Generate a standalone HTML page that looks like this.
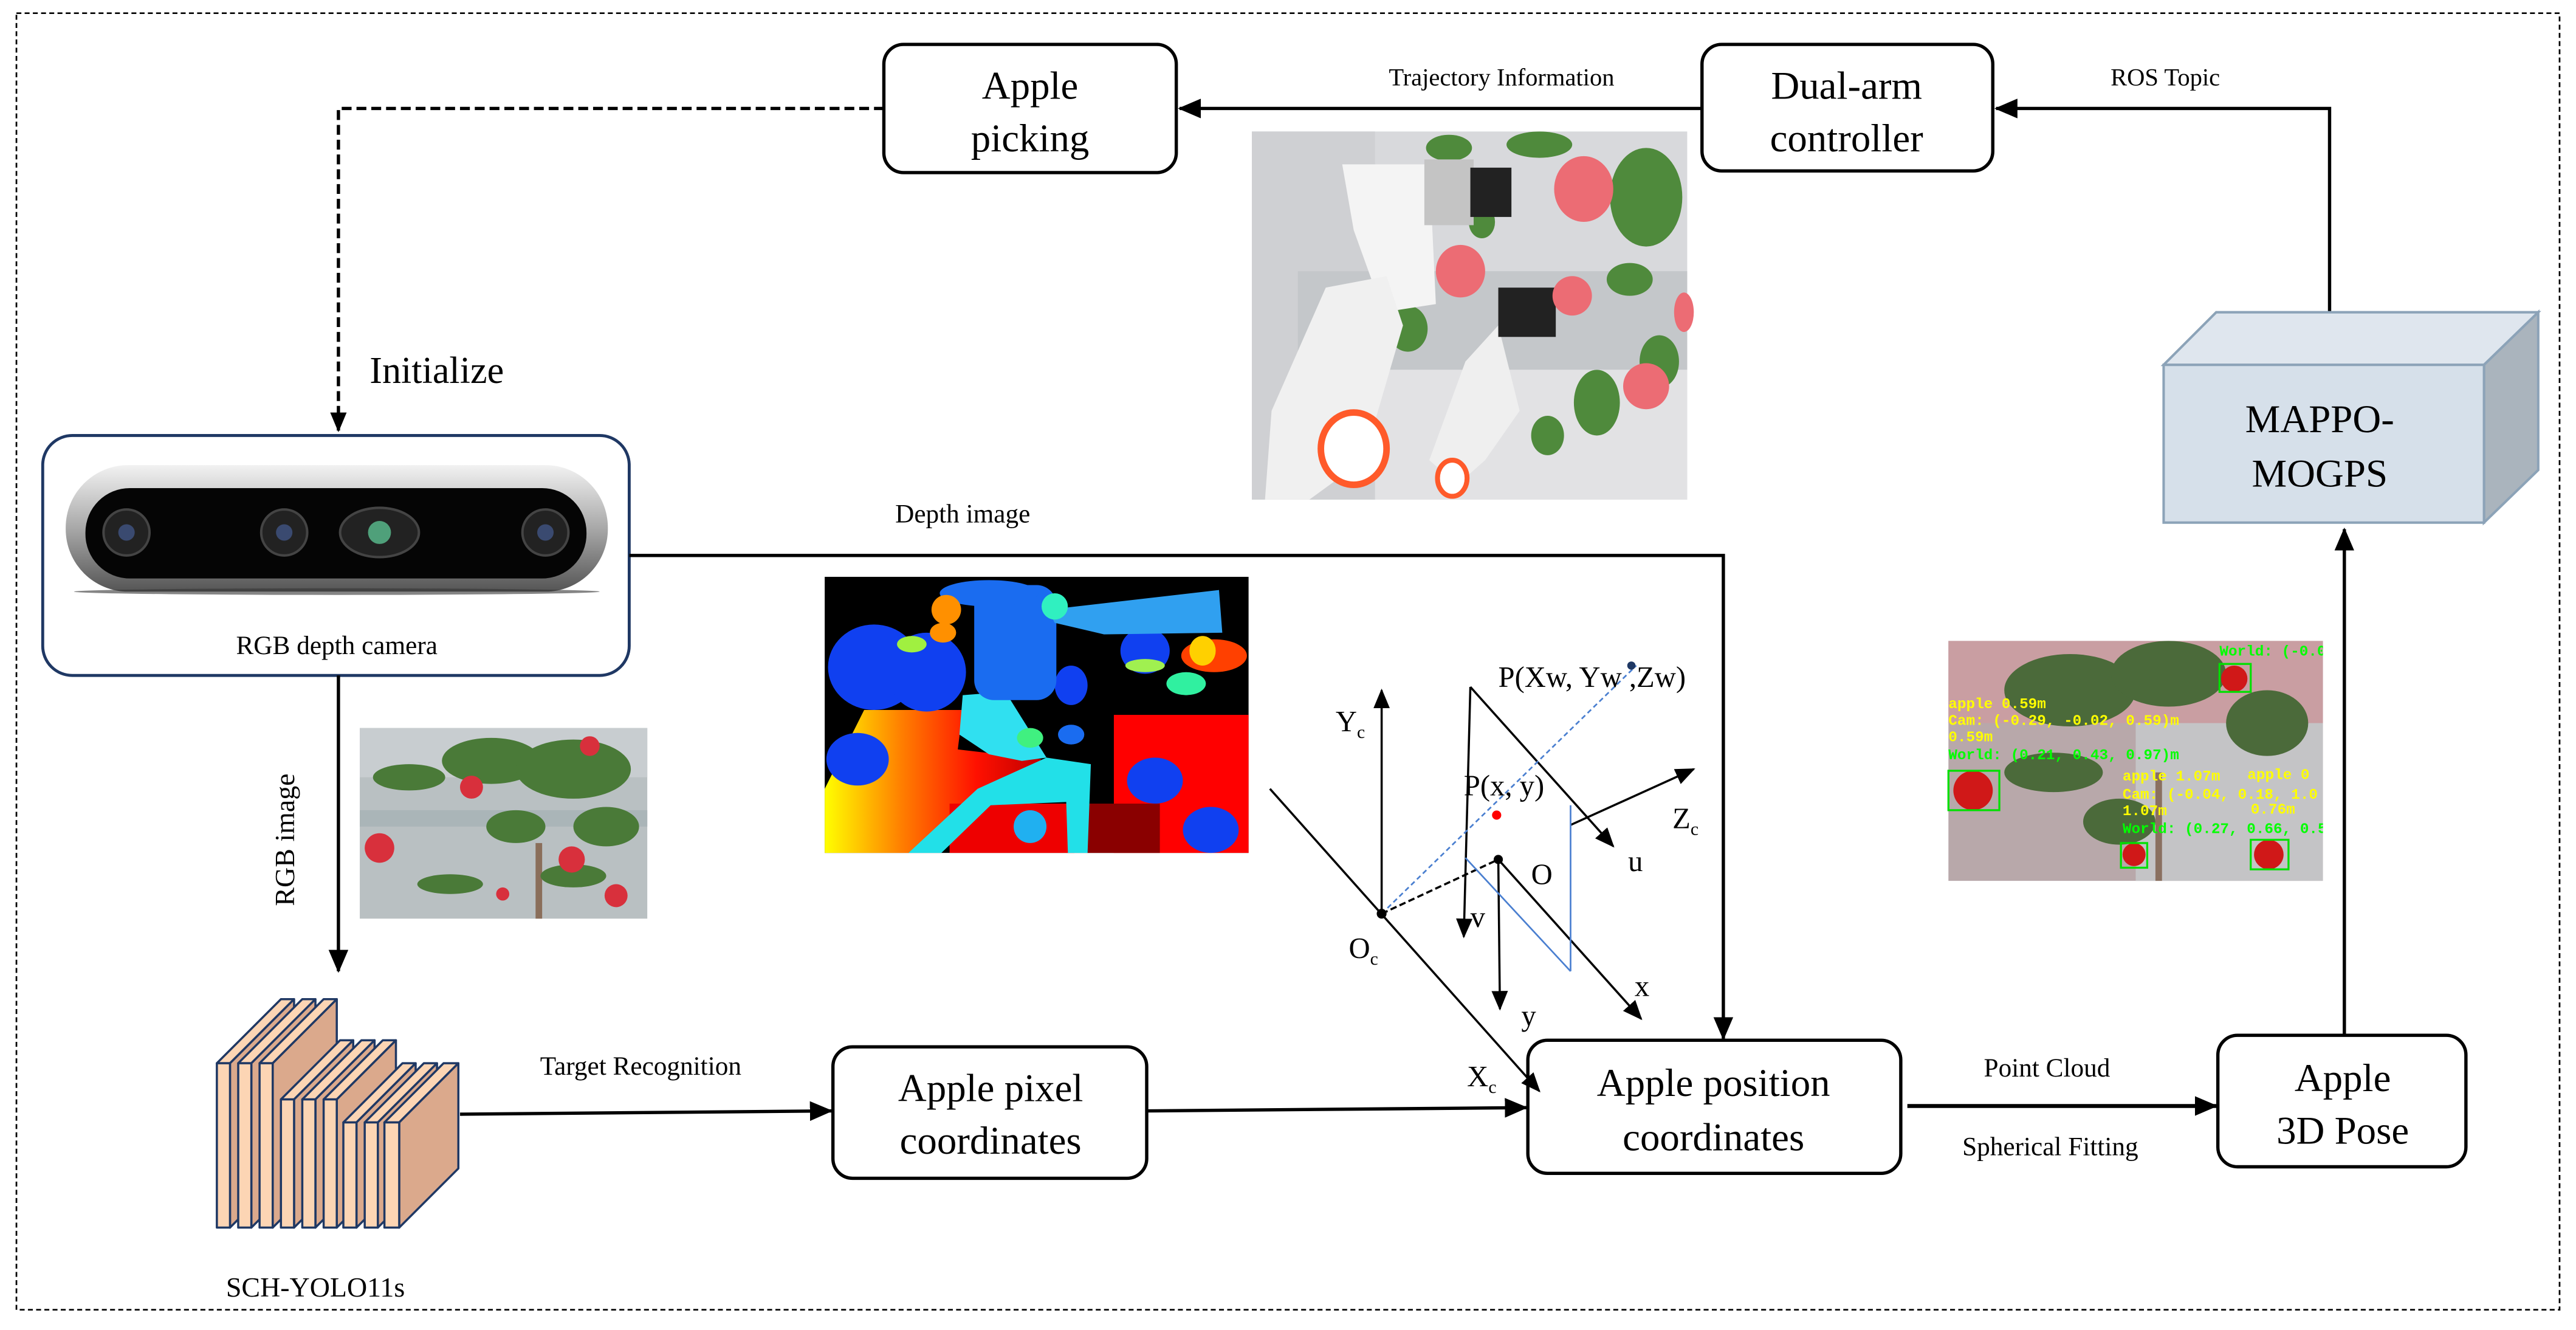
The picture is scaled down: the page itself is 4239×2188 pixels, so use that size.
<!DOCTYPE html>
<html><head><meta charset="utf-8"><style>
html,body{margin:0;padding:0;background:#fff}
svg{display:block}
text{font-family:"Liberation Serif",serif;fill:#000}
.m{font-family:"Liberation Mono",monospace;font-weight:bold;font-size:9px}
</style></head><body>
<svg width="4239" height="2188" viewBox="0 0 1568 809.3" xmlns="http://www.w3.org/2000/svg">
<defs>
<marker id="ah" markerUnits="userSpaceOnUse" markerWidth="14" markerHeight="12" refX="13" refY="6" orient="auto"><path d="M0,0 L14,6 L0,12 Z" fill="#000"/></marker>
<marker id="as" markerUnits="userSpaceOnUse" markerWidth="12" markerHeight="10" refX="11" refY="5" orient="auto"><path d="M0,0 L12,5 L0,10 Z" fill="#000"/></marker>
<linearGradient id="warm" x1="0" y1="0" x2="1" y2="0"><stop offset="0" stop-color="#ffff00"/><stop offset="0.35" stop-color="#ff8000"/><stop offset="0.7" stop-color="#ff1000"/><stop offset="1" stop-color="#c00000"/></linearGradient>
<linearGradient id="silver" x1="0" y1="0" x2="0" y2="1"><stop offset="0" stop-color="#f2f2f2"/><stop offset="0.5" stop-color="#a8a8a8"/><stop offset="1" stop-color="#555"/></linearGradient>
</defs>

<rect x="10" y="8" width="1548" height="789" fill="none" stroke="#000" stroke-width="1" stroke-dasharray="3,2"/>

<rect x="538" y="27" width="178" height="78" rx="12" fill="#fff" stroke="#000" stroke-width="2"/>
<text x="627" y="60" font-size="24" text-anchor="middle">Apple</text>
<text x="627" y="92" font-size="24" text-anchor="middle">picking</text>
<rect x="1036" y="27" width="177" height="77" rx="12" fill="#fff" stroke="#000" stroke-width="2"/>
<text x="1124" y="60" font-size="24" text-anchor="middle">Dual-arm</text>
<text x="1124" y="92" font-size="24" text-anchor="middle">controller</text>

<line x1="1036" y1="66" x2="718" y2="66" stroke="#000" stroke-width="2" marker-end="url(#ah)"/>
<text x="914" y="52" font-size="15" text-anchor="middle">Trajectory Information</text>
<polyline points="1418,190 1418,66 1215,66" fill="none" stroke="#000" stroke-width="2" marker-end="url(#ah)"/>
<text x="1318" y="52" font-size="15" text-anchor="middle">ROS Topic</text>

<polyline points="538,66 206,66 206,262" fill="none" stroke="#000" stroke-width="2" stroke-dasharray="6,3" marker-end="url(#as)"/>
<text x="225" y="233" font-size="23">Initialize</text>

<!-- robot photo -->
<g transform="translate(762,80)">
<rect width="265" height="224" fill="#d8d9dc"/>
<rect x="0" y="0" width="75" height="224" fill="#cfd0d3"/>
<rect x="28" y="85" width="237" height="60" fill="#c4c7ca"/>
<rect x="75" y="145" width="190" height="79" fill="#e2e2e4"/>
<g fill="#4f8a3c"><ellipse cx="120" cy="10" rx="14" ry="8"/><ellipse cx="175" cy="8" rx="20" ry="8"/><ellipse cx="240" cy="40" rx="22" ry="30"/><ellipse cx="230" cy="90" rx="14" ry="10"/><ellipse cx="95" cy="120" rx="12" ry="14"/><ellipse cx="210" cy="165" rx="14" ry="20"/><ellipse cx="180" cy="185" rx="10" ry="12"/><ellipse cx="248" cy="140" rx="12" ry="16"/><ellipse cx="140" cy="55" rx="8" ry="10"/></g>
<path d="M55,20 L108,20 L112,105 L80,110 L62,60 Z" fill="#f4f4f4"/>
<path d="M45,95 L82,88 L92,118 L68,200 L35,224 L8,224 L12,170 Z" fill="#f0f0f0"/>
<rect x="105" y="17" width="30" height="40" fill="#c4c4c4"/>
<rect x="133" y="22" width="25" height="30" fill="#222"/>
<ellipse cx="62" cy="193" rx="20" ry="22" fill="#fff" stroke="#ff5a2a" stroke-width="4"/>
<path d="M130,140 L150,118 L163,170 L142,200 L125,215 L108,200 Z" fill="#efefef"/>
<ellipse cx="122" cy="211" rx="9" ry="11" fill="#fff" stroke="#ff5a2a" stroke-width="3"/>
<rect x="150" y="95" width="35" height="30" fill="#222"/>
<g fill="#ec6c74"><ellipse cx="202" cy="35" rx="18" ry="20"/><ellipse cx="127" cy="85" rx="15" ry="16"/><ellipse cx="195" cy="100" rx="12" ry="12"/><ellipse cx="240" cy="155" rx="14" ry="14"/><ellipse cx="263" cy="110" rx="6" ry="12"/></g>
</g>

<!-- camera -->
<rect x="26" y="265" width="357" height="146" rx="18" fill="#fff" stroke="#1f3864" stroke-width="1.8"/>
<rect x="40" y="283" width="330" height="77" rx="38" fill="url(#silver)"/>
<rect x="52" y="297" width="305" height="55" rx="27" fill="#050505"/>
<ellipse cx="205" cy="360" rx="160" ry="2" fill="#333" opacity="0.6"/>
<g fill="#222" stroke="#444" stroke-width="1.5">
<circle cx="77" cy="324" r="14"/><circle cx="173" cy="324" r="14"/><circle cx="332" cy="324" r="14"/>
<ellipse cx="231" cy="324" rx="24" ry="15"/></g>
<circle cx="77" cy="324" r="5" fill="#3a4a70"/><circle cx="173" cy="324" r="5" fill="#3a4a70"/><circle cx="332" cy="324" r="5" fill="#3a4a70"/>
<circle cx="231" cy="324" r="7" fill="#4fa07a"/>
<text x="205" y="398" font-size="16" text-anchor="middle">RGB depth camera</text>

<polyline points="383,338 1049,338 1049,632" fill="none" stroke="#000" stroke-width="2" marker-end="url(#ah)"/>
<text x="586" y="318" font-size="16" text-anchor="middle">Depth image</text>

<!-- depth map -->
<g transform="translate(502,351)">
<rect width="258" height="168" fill="#000"/>
<path d="M0,129 L24,81 L84,81 L81,105 L132,111 L118,123 L90,135 L51,168 L0,168 Z" fill="url(#warm)"/>
<rect x="176" y="84" width="82" height="84" fill="#f00"/>
<rect x="76" y="138" width="76" height="30" fill="#e00"/>
<rect x="160" y="138" width="44" height="30" fill="#8a0000"/>
<path d="M51,168 L93,129 L135,110 L162,114 L160,168 L148,168 L147,137 L101,139 L71,168 Z" fill="#22e0e8"/>
<path d="M84,72 L110,70 L135,110 L120,112 L100,108 L82,96 Z" fill="#30e0f0"/>
<g fill="#1040f0"><ellipse cx="30" cy="55" rx="28" ry="26"/><ellipse cx="62" cy="58" rx="24" ry="24"/><ellipse cx="20" cy="111" rx="19" ry="16"/><ellipse cx="201" cy="124" rx="17" ry="14"/><ellipse cx="235" cy="154" rx="17" ry="14"/><ellipse cx="195" cy="45" rx="15" ry="14"/><ellipse cx="150" cy="66" rx="10" ry="12"/></g>
<g fill="#1a6cf0"><rect x="91" y="5" width="50" height="70" rx="12"/><ellipse cx="100" cy="10" rx="30" ry="8"/><ellipse cx="150" cy="96" rx="8" ry="6"/></g>
<path d="M136,20 L240,8 L242,34 L170,35 L140,28 Z" fill="#30a0f0"/>
<g fill="#ff9000"><ellipse cx="74" cy="20" rx="9" ry="9"/><ellipse cx="72" cy="34" rx="8" ry="6"/></g>
<ellipse cx="53" cy="41" rx="9" ry="5" fill="#a0f040"/>
<ellipse cx="237" cy="48" rx="20" ry="10" fill="#ff4000"/>
<ellipse cx="230" cy="45" rx="8" ry="9" fill="#ffd000"/>
<ellipse cx="195" cy="54" rx="12" ry="4" fill="#a0f050"/>
<ellipse cx="220" cy="65" rx="12" ry="7" fill="#30f0a0"/>
<ellipse cx="125" cy="98" rx="8" ry="6" fill="#40f080"/>
<ellipse cx="125" cy="152" rx="10" ry="10" fill="#20b0f0"/>
<ellipse cx="140" cy="18" rx="8" ry="8" fill="#30f0c0"/>
</g>

<line x1="206" y1="411" x2="206" y2="591" stroke="#000" stroke-width="2" marker-end="url(#ah)"/>
<text x="0" y="0" font-size="17" text-anchor="middle" transform="translate(179,511) rotate(-90)">RGB image</text>

<!-- tree photo -->
<g transform="translate(219,443)">
<rect width="175" height="116" fill="#b9c0c2"/>
<rect x="0" y="0" width="175" height="30" fill="#c8cdd0"/>
<rect x="0" y="50" width="175" height="10" fill="#aab5b8"/>
<rect x="107" y="70" width="4" height="46" fill="#8a6e5a"/>
<g fill="#4a7a38"><ellipse cx="30" cy="30" rx="22" ry="8"/><ellipse cx="80" cy="20" rx="30" ry="14"/><ellipse cx="130" cy="25" rx="35" ry="18"/><ellipse cx="150" cy="60" rx="20" ry="12"/><ellipse cx="95" cy="60" rx="18" ry="10"/><ellipse cx="55" cy="95" rx="20" ry="6"/><ellipse cx="130" cy="90" rx="20" ry="7"/></g>
<g fill="#d8303c"><circle cx="140" cy="11" r="6"/><circle cx="68" cy="36" r="7"/><circle cx="12" cy="73" r="9"/><circle cx="129" cy="80" r="8"/><circle cx="156" cy="102" r="7"/><circle cx="87" cy="101" r="4"/></g>
</g>

<!-- layer stack -->
<g stroke="#1f3864" stroke-width="1.3" stroke-linejoin="round">
<path d="M132,647 l39,-39 h8 l-39,39 z" fill="#fcd5b4"/><path d="M140,647 l39,-39 v100 l-39,39 z" fill="#dba98c"/><rect x="132" y="647" width="8" height="100" fill="#fcd5b4"/>
<path d="M145,647 l39,-39 h8 l-39,39 z" fill="#fcd5b4"/><path d="M153,647 l39,-39 v100 l-39,39 z" fill="#dba98c"/><rect x="145" y="647" width="8" height="100" fill="#fcd5b4"/>
<path d="M158,647 l39,-39 h8 l-39,39 z" fill="#fcd5b4"/><path d="M166,647 l39,-39 v100 l-39,39 z" fill="#dba98c"/><rect x="158" y="647" width="8" height="100" fill="#fcd5b4"/>
<path d="M171,669 l36,-36 h8 l-36,36 z" fill="#fcd5b4"/><path d="M179,669 l36,-36 v78 l-36,36 z" fill="#dba98c"/><rect x="171" y="669" width="8" height="78" fill="#fcd5b4"/>
<path d="M184,669 l36,-36 h8 l-36,36 z" fill="#fcd5b4"/><path d="M192,669 l36,-36 v78 l-36,36 z" fill="#dba98c"/><rect x="184" y="669" width="8" height="78" fill="#fcd5b4"/>
<path d="M197,669 l36,-36 h8 l-36,36 z" fill="#fcd5b4"/><path d="M205,669 l36,-36 v78 l-36,36 z" fill="#dba98c"/><rect x="197" y="669" width="8" height="78" fill="#fcd5b4"/>
<path d="M209,683 l36,-36 h8 l-36,36 z" fill="#fcd5b4"/><path d="M217,683 l36,-36 v64 l-36,36 z" fill="#dba98c"/><rect x="209" y="683" width="8" height="64" fill="#fcd5b4"/>
<path d="M222,683 l36,-36 h8 l-36,36 z" fill="#fcd5b4"/><path d="M230,683 l36,-36 v64 l-36,36 z" fill="#dba98c"/><rect x="222" y="683" width="8" height="64" fill="#fcd5b4"/>
<path d="M234,683 l36,-36 h9 l-36,36 z" fill="#fcd5b4"/><path d="M243,683 l36,-36 v64 l-36,36 z" fill="#dba98c"/><rect x="234" y="683" width="9" height="64" fill="#fcd5b4"/>
</g>
<text x="192" y="789" font-size="17" text-anchor="middle">SCH-YOLO11s</text>

<line x1="280" y1="678" x2="506" y2="676" stroke="#000" stroke-width="2" marker-end="url(#ah)"/>
<text x="390" y="654" font-size="16" text-anchor="middle">Target Recognition</text>
<rect x="507" y="637" width="191" height="80" rx="12" fill="#fff" stroke="#000" stroke-width="2"/>
<text x="603" y="670" font-size="24" text-anchor="middle">Apple pixel</text>
<text x="603" y="702" font-size="24" text-anchor="middle">coordinates</text>
<line x1="698" y1="676" x2="929" y2="674" stroke="#000" stroke-width="2" marker-end="url(#ah)"/>
<rect x="930" y="633" width="227" height="81" rx="12" fill="#fff" stroke="#000" stroke-width="2"/>
<text x="1043" y="667" font-size="24" text-anchor="middle">Apple position</text>
<text x="1043" y="700" font-size="24" text-anchor="middle">coordinates</text>
<line x1="1161" y1="673" x2="1349" y2="673" stroke="#000" stroke-width="2.4" marker-end="url(#ah)"/>
<text x="1246" y="655" font-size="16" text-anchor="middle">Point Cloud</text>
<text x="1248" y="703" font-size="16" text-anchor="middle">Spherical Fitting</text>
<rect x="1350" y="630" width="151" height="80" rx="12" fill="#fff" stroke="#000" stroke-width="2"/>
<text x="1426" y="664" font-size="24" text-anchor="middle">Apple</text>
<text x="1426" y="696" font-size="24" text-anchor="middle">3D Pose</text>
<line x1="1427" y1="630" x2="1427" y2="322" stroke="#000" stroke-width="2" marker-end="url(#ah)"/>

<path d="M1317,222 L1349,190 L1545,190 L1512,222 Z" fill="#dfe6ee" stroke="#8ca3b8" stroke-width="1.5"/>
<path d="M1512,222 L1545,190 L1545,286 L1512,318 Z" fill="#aab4bd" stroke="#8ca3b8" stroke-width="1.5"/>
<rect x="1317" y="222" width="195" height="96" fill="#d6e0ea" stroke="#8ca3b8" stroke-width="1.5"/>
<text x="1412" y="263" font-size="24" text-anchor="middle">MAPPO-</text>
<text x="1412" y="296" font-size="24" text-anchor="middle">MOGPS</text>

<!-- detection image -->
<g>
<rect x="1186" y="390" width="228" height="146" fill="#b8a8aa"/>
<rect x="1186" y="390" width="228" height="50" fill="#c99ea2"/>
<rect x="1300" y="440" width="114" height="96" fill="#c4c4c6"/>
<g fill="#4b6a3a"><ellipse cx="1260" cy="420" rx="40" ry="22"/><ellipse cx="1320" cy="410" rx="35" ry="20"/><ellipse cx="1380" cy="440" rx="25" ry="20"/><ellipse cx="1250" cy="470" rx="30" ry="12"/><ellipse cx="1290" cy="500" rx="22" ry="14"/></g>
<rect x="1312" y="470" width="4" height="66" fill="#8a7060"/>
<g fill="#d01818"><circle cx="1201" cy="481" r="12"/><circle cx="1360" cy="413" r="8"/><circle cx="1299" cy="520" r="7"/><circle cx="1381" cy="520" r="9"/></g>
<g fill="none" stroke="#00e000" stroke-width="1.2"><rect x="1186" y="469" width="31" height="24"/><rect x="1351" y="404" width="19" height="17"/><rect x="1291" y="513" width="16" height="15"/><rect x="1370" y="511" width="23" height="18"/></g>
<text class="m" x="1186" y="431" style="fill:#ffff00">apple 0.59m</text>
<text class="m" x="1186" y="441" style="fill:#ffff00">Cam: (-0.29, -0.02, 0.59)m</text>
<text class="m" x="1186" y="451" style="fill:#ffff00">0.59m</text>
<text class="m" x="1186" y="462" style="fill:#00ff00">World: (0.21, 0.43, 0.97)m</text>
<text class="m" x="1351" y="399" style="fill:#00ff00">World: (-0.0</text>
<text class="m" x="1292" y="475" style="fill:#ffff00">apple 1.07m</text>
<text class="m" x="1368" y="474" style="fill:#ffff00">apple 0</text>
<text class="m" x="1292" y="486" style="fill:#ffff00">Cam: (-0.04, 0.18, 1.0</text>
<text class="m" x="1292" y="496" style="fill:#ffff00">1.07m</text>
<text class="m" x="1370" y="495" style="fill:#ffff00">0.76m</text>
<text class="m" x="1292" y="507" style="fill:#00ff00">World: (0.27, 0.66, 0.5</text>
<rect x="1414" y="385" width="10" height="155" fill="#fff"/>
</g>

<!-- coordinate diagram -->
<g stroke="#000" stroke-width="1.3" fill="none">
<line x1="773" y1="480" x2="937" y2="664" marker-end="url(#as)"/>
<line x1="841" y1="556" x2="841" y2="420" marker-end="url(#as)"/>
<line x1="895" y1="418" x2="891" y2="570" marker-end="url(#as)"/>
<line x1="895" y1="418" x2="982" y2="515" marker-end="url(#as)"/>
<line x1="912" y1="523" x2="913" y2="614" marker-end="url(#as)"/>
<line x1="912" y1="523" x2="999" y2="620" marker-end="url(#as)"/>
<line x1="956" y1="502" x2="1031" y2="468" marker-end="url(#as)"/>
<line x1="841" y1="556" x2="912" y2="523" stroke-dasharray="4,2"/>
</g>
<g stroke="#4a7fd0" stroke-width="1" fill="none">
<line x1="956" y1="490" x2="956" y2="591"/>
<line x1="892" y1="522" x2="956" y2="591"/>
<line x1="841" y1="556" x2="996" y2="405" stroke-dasharray="3,2"/>
</g>
<circle cx="841" cy="556" r="3" fill="#000"/>
<circle cx="912" cy="523" r="2.8" fill="#000"/>
<circle cx="911" cy="496" r="2.8" fill="#ff0000"/>
<circle cx="993" cy="405" r="2.5" fill="#1f3864"/>
<g font-size="18">
<text x="912" y="418">P(Xw, Yw ,Zw)</text>
<text x="813" y="445">Y<tspan font-size="11" dy="4">c</tspan></text>
<text x="891" y="484">P(x, y)</text>
<text x="1018" y="504">Z<tspan font-size="11" dy="4">c</tspan></text>
<text x="991" y="530">u</text>
<text x="932" y="538">O</text>
<text x="895" y="564">v</text>
<text x="821" y="583">O<tspan font-size="11" dy="4">c</tspan></text>
<text x="926" y="624">y</text>
<text x="995" y="606">x</text>
<text x="893" y="661">X<tspan font-size="11" dy="4">c</tspan></text>
</g>
</svg>
</body></html>
